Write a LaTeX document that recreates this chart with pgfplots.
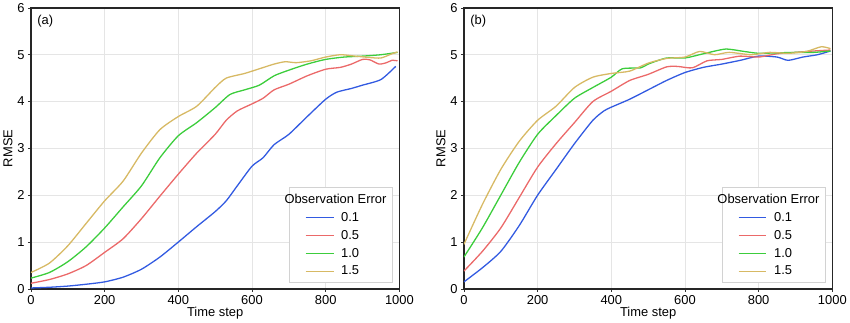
\documentclass[border=0pt]{standalone}
\usepackage{pgfplots}
\pgfplotsset{compat=1.18}
\usepackage{fontspec}
\setmainfont{Liberation Sans}
\definecolor{cblue}{RGB}{50,90,225}
\definecolor{cred}{RGB}{235,105,105}
\definecolor{cgreen}{RGB}{60,205,60}
\definecolor{cyel}{RGB}{215,185,100}
\pgfplotsset{
  myax/.style={
    width=371pt, height=283pt, scale only axis,
    xmin=0, xmax=1000, ymin=0, ymax=6,
    xtick={0,200,...,1000}, ytick={0,1,...,6},
    tick pos=left, tick align=outside, major tick length=3pt,
    axis line style={line width=1.3pt, black!85},
    tick style={black!80, line width=0.6pt},
    grid=major, grid style={gray!20, line width=0.6pt},
    /pgf/number format/assume math mode=true,
    /pgf/number format/1000 sep={},
    ticklabel style={font=\fontsize{13}{15}\selectfont},
    label style={font=\fontsize{13}{15}\selectfont},
    xlabel={Time step}, ylabel={RMSE},
    xlabel style={yshift=4pt}, ylabel style={yshift=-2pt},
    every axis plot/.append style={line width=1.3pt, smooth, tension=0.4},
    legend cell align=left,
    legend style={at={(rel axis cs:0.982,0.022)}, anchor=south east,
      draw=gray!35, line width=0.8pt, font=\fontsize{13}{15}\selectfont,
      row sep=3.5pt, inner xsep=4pt, inner ysep=4pt},
    legend image code/.code={\draw[#1, line width=1.3pt, sharp plot] (12pt,0pt) -- (40pt,0pt);},
  }
}
\begin{document}
\begin{tikzpicture}[x=1pt,y=1pt]
\begin{axis}[myax, at={(29pt,35pt)}, anchor=south west]
\addlegendimage{empty legend}
\addlegendentry{\hspace{-52pt}Observation Error}
\addplot[cblue] coordinates {(0,0.02)(50,0.035)(100,0.06)(150,0.1)(200,0.15)(250,0.25)(300,0.42)(350,0.68)(400,1.0)(450,1.33)(500,1.65)(530,1.88)(560,2.2)(600,2.62)(630,2.8)(660,3.08)(700,3.3)(750,3.68)(800,4.05)(830,4.2)(870,4.28)(900,4.35)(950,4.47)(990,4.75)};
\addlegendentry{\hspace{5pt}0.1}
\addplot[cred] coordinates {(0,0.12)(50,0.2)(100,0.32)(150,0.5)(200,0.78)(250,1.07)(300,1.5)(350,1.98)(400,2.45)(450,2.9)(500,3.3)(530,3.6)(560,3.8)(600,3.95)(630,4.07)(660,4.25)(700,4.37)(750,4.55)(800,4.69)(840,4.73)(870,4.8)(900,4.9)(920,4.89)(945,4.8)(965,4.83)(980,4.88)(995,4.87)};
\addlegendentry{\hspace{5pt}0.5}
\addplot[cgreen] coordinates {(0,0.23)(50,0.35)(100,0.58)(150,0.9)(200,1.3)(250,1.75)(300,2.2)(350,2.8)(400,3.27)(450,3.55)(500,3.87)(540,4.15)(580,4.25)(620,4.35)(660,4.55)(700,4.67)(750,4.8)(800,4.9)(850,4.95)(900,4.97)(950,5.0)(995,5.05)};
\addlegendentry{\hspace{5pt}1.0}
\addplot[cyel] coordinates {(0,0.35)(50,0.55)(100,0.92)(150,1.4)(200,1.88)(250,2.3)(300,2.9)(350,3.4)(400,3.68)(450,3.9)(500,4.3)(530,4.5)(580,4.6)(620,4.7)(660,4.8)(690,4.85)(720,4.83)(760,4.87)(800,4.95)(840,5.0)(880,4.97)(920,4.94)(950,4.93)(980,5.02)(995,5.06)};
\addlegendentry{\hspace{5pt}1.5}
\node[anchor=north west, font=\fontsize{13}{15}\selectfont] at (rel axis cs:0,1) [xshift=3pt,yshift=-4pt] {(a)};
\end{axis}
\begin{axis}[myax, at={(465pt,35pt)}, anchor=south west]
\addlegendimage{empty legend}
\addlegendentry{\hspace{-52pt}Observation Error}
\addplot[cblue] coordinates {(0,0.15)(50,0.45)(100,0.8)(150,1.35)(200,2.0)(250,2.55)(300,3.1)(350,3.6)(380,3.8)(400,3.88)(450,4.05)(500,4.25)(550,4.45)(600,4.62)(650,4.73)(700,4.8)(750,4.88)(800,4.97)(850,4.95)(880,4.88)(920,4.95)(960,5.0)(995,5.08)};
\addlegendentry{\hspace{5pt}0.1}
\addplot[cred] coordinates {(0,0.38)(50,0.8)(100,1.3)(150,1.95)(200,2.6)(250,3.1)(300,3.55)(350,4.0)(400,4.22)(450,4.45)(500,4.58)(550,4.74)(580,4.75)(620,4.72)(660,4.87)(700,4.9)(750,4.97)(800,4.95)(850,5.02)(900,5.05)(950,5.08)(995,5.1)};
\addlegendentry{\hspace{5pt}0.5}
\addplot[cgreen] coordinates {(0,0.68)(50,1.3)(100,2.0)(150,2.7)(200,3.3)(250,3.7)(300,4.07)(350,4.3)(400,4.52)(430,4.7)(480,4.72)(500,4.8)(550,4.93)(600,4.93)(650,5.02)(710,5.12)(760,5.07)(800,5.03)(850,5.04)(900,5.05)(950,5.05)(995,5.08)};
\addlegendentry{\hspace{5pt}1.0}
\addplot[cyel] coordinates {(0,0.95)(50,1.8)(100,2.55)(150,3.15)(200,3.6)(250,3.9)(300,4.3)(350,4.52)(400,4.6)(450,4.65)(500,4.82)(550,4.92)(600,4.95)(640,5.07)(680,5.0)(720,5.05)(780,5.0)(830,5.05)(880,5.03)(930,5.07)(970,5.17)(995,5.13)};
\addlegendentry{\hspace{5pt}1.5}
\node[anchor=north west, font=\fontsize{13}{15}\selectfont] at (rel axis cs:0,1) [xshift=3pt,yshift=-4pt] {(b)};
\end{axis}
\end{tikzpicture}
\end{document}
